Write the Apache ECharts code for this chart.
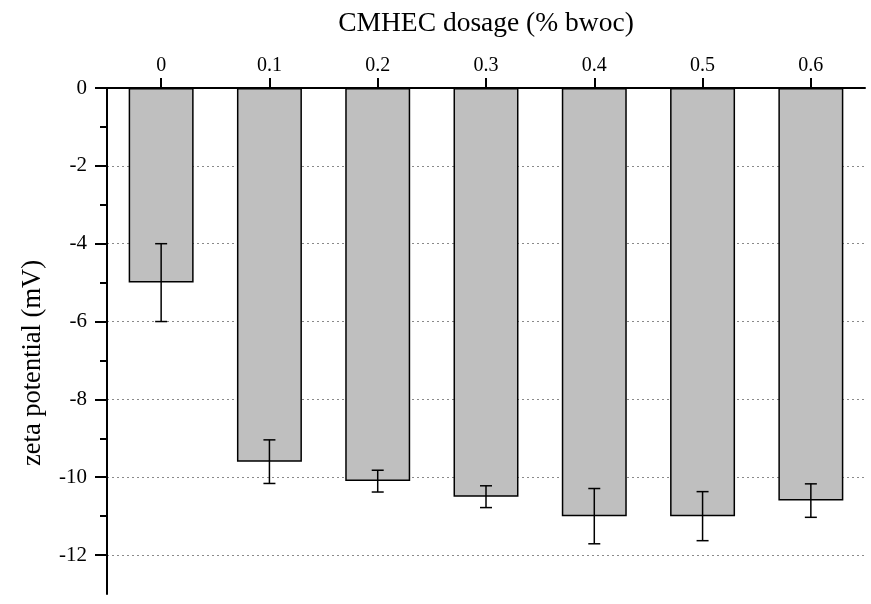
<!DOCTYPE html>
<html>
<head>
<meta charset="utf-8">
<title>Zeta potential vs CMHEC dosage</title>
<script src="https://cdn.jsdelivr.net/npm/echarts@6/dist/echarts.min.js"></script>
<style>
  html, body { margin: 0; padding: 0; background: #ffffff; }
  #chart { width: 871px; height: 604px; }
</style>
</head>
<body>
<div id="chart"></div>
<script>
// CMHEC dosage categories (% bwoc)
const dosages = ['0', '0.1', '0.2', '0.3', '0.4', '0.5', '0.6'];
// Mean zeta potential (mV)
const zeta = [-5.0, -9.6, -10.1, -10.5, -11.0, -11.0, -10.6];
// Error (± mV)
const zetaErr = [1.0, 0.56, 0.28, 0.28, 0.71, 0.63, 0.43];
// Labelled (major) and unlabelled (minor) tick values on the y axis
const majorTicks = [0, -2, -4, -6, -8, -10, -12];
const minorTicks = [-1, -3, -5, -7, -9, -11];

const FONT = "'Liberation Serif', 'Times New Roman', serif";

const errorData = zeta.map((v, i) => [i, v - zetaErr[i], v + zetaErr[i]]);

const chart = echarts.init(document.getElementById('chart'), null, { renderer: 'canvas' });

const yBase = {
  type: 'value',
  min: -13,
  max: 0,
  interval: 1,
  position: 'left'
};

chart.setOption({
  animation: false,
  backgroundColor: '#ffffff',
  grid: { left: 107, right: 6, top: 88, bottom: 10, containLabel: false },
  xAxis: {
    type: 'category',
    position: 'top',
    data: dosages,
    name: 'CMHEC dosage (% bwoc)',
    nameLocation: 'middle',
    nameGap: 50,
    nameTextStyle: { fontFamily: FONT, fontSize: 27.5, color: '#000' },
    axisLine: { show: true, lineStyle: { color: '#000', width: 2 } },
    axisTick: { show: true, alignWithLabel: true, length: 10, lineStyle: { color: '#000', width: 2 } },
    axisLabel: { fontFamily: FONT, fontSize: 20, color: '#000', margin: 12 },
    splitLine: { show: false }
  },
  yAxis: [
    Object.assign({}, yBase, {
      name: 'zeta potential (mV)',
      nameLocation: 'middle',
      nameGap: 60,
      nameTextStyle: { fontFamily: FONT, fontSize: 26.5, color: '#000', padding: [0, 44, 0, 0] },
      axisLine: { show: true, onZero: false, lineStyle: { color: '#000', width: 2 } },
      axisTick: { show: true, length: 12, customValues: majorTicks, lineStyle: { color: '#000', width: 2 } },
      axisLabel: {
        fontFamily: FONT, fontSize: 21, color: '#000', margin: 20,
        customValues: majorTicks
      },
      splitLine: {
        show: true,
        lineStyle: { color: '#8a8a8a', type: [2, 3], width: 1 }
      }
    }),
    Object.assign({}, yBase, {
      axisLine: { show: false, onZero: false },
      axisTick: { show: true, length: 7, customValues: minorTicks, lineStyle: { color: '#000', width: 2 } },
      axisLabel: { show: false },
      splitLine: { show: false }
    })
  ],
  series: [
    {
      type: 'bar',
      data: zeta,
      barWidth: '60%',
      itemStyle: { color: '#bfbfbf', borderColor: '#000', borderWidth: 1.5 },
      z: 2
    },
    {
      type: 'custom',
      data: errorData,
      z: 3,
      renderItem: function (params, api) {
        const x = api.value(0);
        const lo = api.coord([x, api.value(1)]);
        const hi = api.coord([x, api.value(2)]);
        const hw = 6;
        const style = { stroke: '#000', lineWidth: 1.5 };
        return {
          type: 'group',
          children: [
            { type: 'line', shape: { x1: lo[0], y1: lo[1], x2: hi[0], y2: hi[1] }, style: style },
            { type: 'line', shape: { x1: lo[0] - hw, y1: lo[1], x2: lo[0] + hw, y2: lo[1] }, style: style },
            { type: 'line', shape: { x1: hi[0] - hw, y1: hi[1], x2: hi[0] + hw, y2: hi[1] }, style: style }
          ]
        };
      }
    }
  ]
});
</script>
</body>
</html>
